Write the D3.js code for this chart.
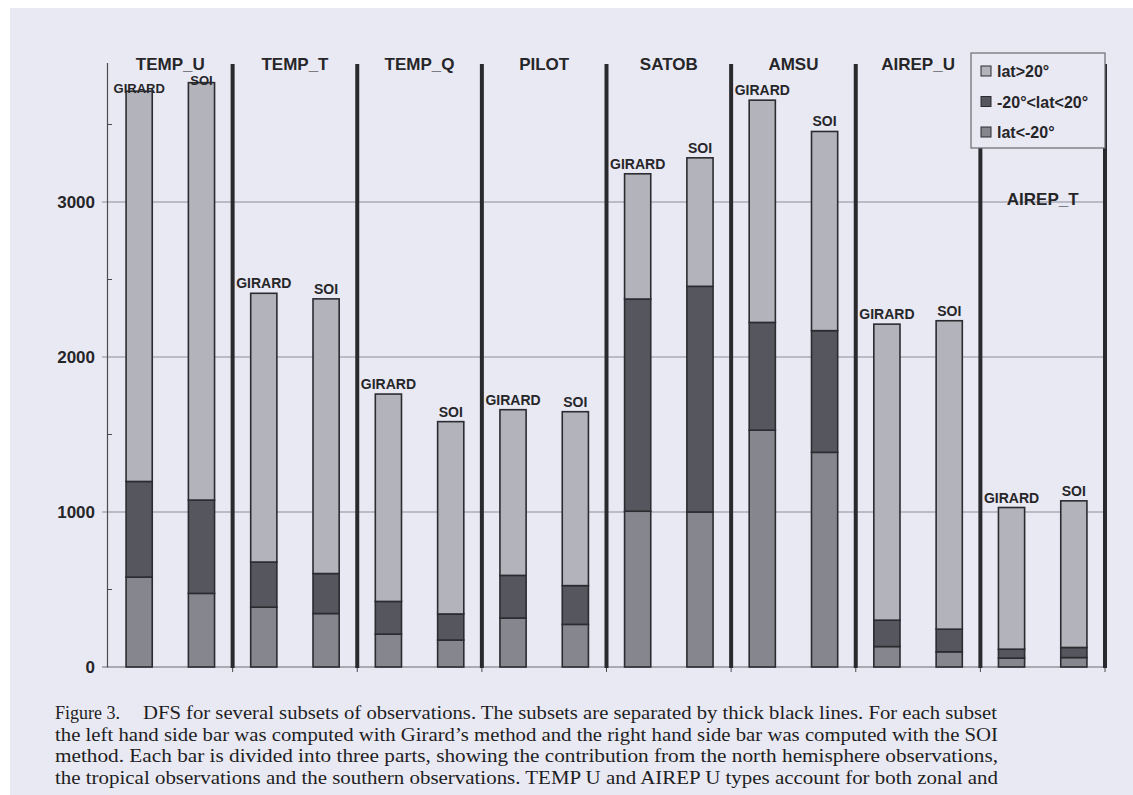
<!DOCTYPE html>
<html>
<head>
<meta charset="utf-8">
<script src="https://cdn.jsdelivr.net/npm/d3@7"></script>
<style>
  html, body { margin: 0; padding: 0; background: #fff; }
  svg { display: block; }
</style>
</head>
<body>
<div id="view"></div>
<script>
// ---------- Data ----------
const subsets = ["TEMP_U", "TEMP_T", "TEMP_Q", "PILOT", "SATOB", "AMSU", "AIREP_U", "AIREP_T"];
const methods = ["GIRARD", "SOI"];
const zoneKeys   = ["south", "trop", "north"];                 // bottom -> top
const zoneLabels = ["lat<-20°", "-20°<lat<20°", "lat>20°"];

// lat<-20°
const southGirard = [580, 386, 212, 316, 1005, 1528, 132, 57];
const southSoi    = [475, 345, 174, 275, 1000, 1385,  98, 61];
// -20°<lat<20°
const tropGirard  = [617, 291, 211, 275, 1369, 695, 170, 58];
const tropSoi     = [602, 258, 168, 250, 1456, 785, 146, 65];
// lat>20°
const northGirard = [2518, 1734, 1338, 1069, 808, 1434, 1910, 914];
const northSoi    = [2693, 1772, 1241, 1122, 829, 1285, 1990, 946];

const yMajor = [0, 1000, 2000, 3000];
const yMinor = [500, 1500, 2500, 3500];
const yMax = 3900;

const captionFirst = "Figure 3.";
const captionLines = [
  "DFS for several subsets of observations. The subsets are separated by thick black lines. For each subset",
  "the left hand side bar was computed with Girard’s method and the right hand side bar was computed with the SOI",
  "method. Each bar is divided into three parts, showing the contribution from the north hemisphere observations,",
  "the tropical observations and the southern observations. TEMP U and AIREP U types account for both zonal and"
];

(function () {
  const W = 1133, H = 795;
  const BG = "#e9e9f4";
  const INK = "#262629";
  const COLORS = { north: "#b3b3bc", trop: "#56565e", south: "#86868f" };

  const rows = [];
  subsets.forEach((s, i) => {
    rows.push({ subset: s, method: "GIRARD", south: southGirard[i], trop: tropGirard[i], north: northGirard[i] });
    rows.push({ subset: s, method: "SOI",    south: southSoi[i],    trop: tropSoi[i],    north: northSoi[i] });
  });

  const svg = d3.select("#view").append("svg")
    .attr("width", W).attr("height", H)
    .style("font-family", "'Liberation Sans', Arial, sans-serif");

  // scanned page background
  svg.append("rect").attr("x", 10).attr("y", 8).attr("width", W - 10).attr("height", H - 8).attr("fill", BG);

  // ---------- Scales ----------
  const x0 = d3.scaleBand().domain(subsets).range([108, 1105]).padding(0);
  const x1 = d3.scaleBand().domain(methods).range([0, x0.bandwidth()])
    .paddingInner(0.58).paddingOuter(0.29);
  const y = d3.scaleLinear().domain([0, yMax]).range([667, 62.5]);

  const g = svg.append("g");

  // --- gridlines ---
  g.selectAll("line.grid")
    .data(yMajor)
    .join("line")
    .attr("class", "grid")
    .attr("x1", 102).attr("x2", 1105)
    .attr("y1", d => y(d)).attr("y2", d => y(d))
    .attr("stroke", d => d === 0 ? "#6c6c74" : "#8e8e98")
    .attr("stroke-width", 1.2);

  // --- y axis (labels + domain line) ---
  const yAxis = g.append("g")
    .attr("transform", "translate(107,0)")
    .call(d3.axisLeft(y).tickValues(yMajor).tickFormat(d3.format("d"))
      .tickSize(5).tickSizeOuter(0).tickPadding(7));
  yAxis.select(".domain").attr("stroke", "#4a4a50").attr("stroke-width", 1.2);
  yAxis.selectAll(".tick line").remove();
  yAxis.selectAll("text")
    .style("font-size", "17px")
    .style("font-weight", "bold")
    .attr("fill", INK);

  // minor ticks (inside)
  g.selectAll("line.minor")
    .data(yMinor)
    .join("line")
    .attr("class", "minor")
    .attr("x1", 107).attr("x2", 112)
    .attr("y1", d => y(d)).attr("y2", d => y(d))
    .attr("stroke", "#4a4a50");

  // small ticks below baseline at subset borders
  g.selectAll("line.xtick")
    .data(subsets)
    .join("line")
    .attr("class", "xtick")
    .attr("x1", d => x0(d) + x0.step()).attr("x2", d => x0(d) + x0.step())
    .attr("y1", y(0)).attr("y2", y(0) + 5)
    .attr("stroke", "#4a4a50");

  // --- separators (thick black lines) ---
  g.selectAll("line.sep")
    .data(subsets)
    .join("line")
    .attr("class", "sep")
    .attr("x1", d => x0(d) + x0.step()).attr("x2", d => x0(d) + x0.step())
    .attr("y1", 64).attr("y2", y(0) + 1)
    .attr("stroke", "#2a2a2e")
    .attr("stroke-width", 4);

  // --- stacked bars ---
  const series = d3.stack().keys(zoneKeys)(rows);
  const barX = d => x0(d.data.subset) + x1(d.data.method);

  g.selectAll("g.layer")
    .data(series)
    .join("g")
    .attr("class", "layer")
    .attr("fill", s => COLORS[s.key])
    .selectAll("rect")
    .data(s => s)
    .join("rect")
    .attr("x", barX)
    .attr("y", d => y(d[1]))
    .attr("width", x1.bandwidth())
    .attr("height", d => y(d[0]) - y(d[1]))
    .attr("stroke", "#2b2b30")
    .attr("stroke-width", 1.6);

  // --- method labels above bars ---
  const totals = rows.map(r => ({ r, top: r.south + r.trop + r.north }));
  const squeezed = d => d.top > 3700;   // no room under the subset title
  g.selectAll("text.mlabel")
    .data(totals)
    .join("text")
    .attr("class", "mlabel")
    .attr("x", d => x0(d.r.subset) + x1(d.r.method) + x1.bandwidth() / 2)
    .attr("y", d => squeezed(d) ? y(d.top) + 2 : y(d.top) - 5)
    .attr("text-anchor", "middle")
    .style("font-size", d => squeezed(d) ? "13px" : "14px")
    .style("font-weight", "bold")
    .attr("fill", INK)
    .text(d => d.r.method);

  // --- subset titles ---
  g.selectAll("text.stitle")
    .data(subsets)
    .join("text")
    .attr("class", "stitle")
    .attr("x", d => x0(d) + x0.bandwidth() / 2)
    .attr("y", d => d === "AIREP_T" ? 205 : 70)
    .attr("text-anchor", "middle")
    .style("font-size", "17px")
    .style("font-weight", "bold")
    .attr("fill", INK)
    .text(d => d);

  // --- legend ---
  const leg = svg.append("g").attr("transform", "translate(971,53)");
  leg.append("rect")
    .attr("width", 134).attr("height", 95)
    .attr("fill", BG)
    .attr("stroke", "#6a6a70").attr("stroke-width", 1.2);
  const legItems = [2, 1, 0]; // top -> bottom in the box
  const li = leg.selectAll("g.li")
    .data(legItems)
    .join("g")
    .attr("class", "li")
    .attr("transform", (d, i) => `translate(10,${18 + i * 30.5})`);
  li.append("rect")
    .attr("y", -5).attr("width", 10).attr("height", 10)
    .attr("fill", d => COLORS[zoneKeys[d]])
    .attr("stroke", "#2b2b30").attr("stroke-width", 1);
  li.append("text")
    .attr("x", 16).attr("y", 6)
    .style("font-size", "16px")
    .style("font-weight", "bold")
    .attr("fill", INK)
    .text(d => zoneLabels[d]);

  // ---------- Caption ----------
  const cap = svg.append("g")
    .style("font-family", "'Liberation Serif', 'Times New Roman', serif")
    .style("font-size", "18px")
    .attr("fill", "#1e1e22");
  cap.append("text").attr("x", 55).attr("y", 719).text(captionFirst);
  cap.selectAll("text.cl")
    .data(captionLines)
    .join("text")
    .attr("class", "cl")
    .attr("x", (d, i) => i === 0 ? 143 : 55)
    .attr("y", (d, i) => 719 + i * 21.5)
    .attr("textLength", (d, i) => i === 0 ? 854 : 943)
    .attr("lengthAdjust", "spacingAndGlyphs")
    .text(d => d);
})();
</script>
</body>
</html>
